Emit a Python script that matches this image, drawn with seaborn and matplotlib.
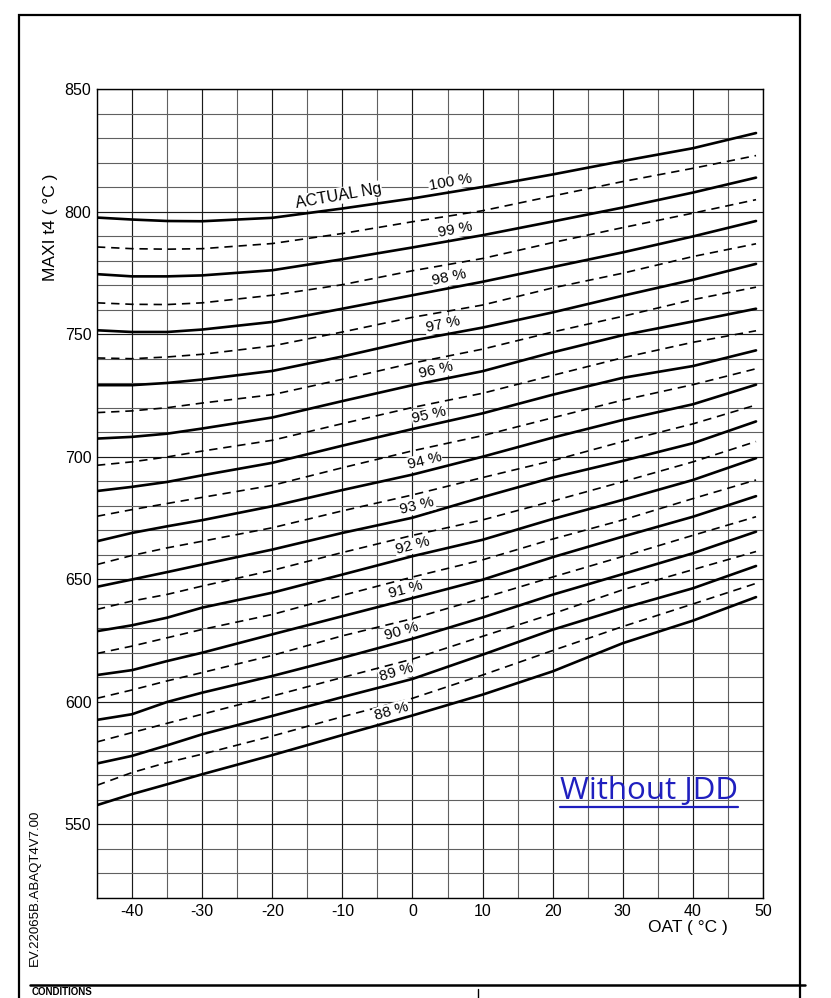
import numpy as np
import matplotlib
matplotlib.use("Agg")
import matplotlib.pyplot as plt
import seaborn as sns
from matplotlib.patches import Rectangle
from matplotlib.lines import Line2D

# OAT (deg C) where the curves were read
oat = [-45, -40, -35, -30, -20, -10, 0, 10, 20, 30, 40, 49]

# solid curves, actual Ng 100 % .. 88 %
ng_100 = [797.7, 796.9, 796.3, 796.2, 797.6, 801.4, 805.5, 810.2, 815.3, 820.8, 826.0, 832.2]
ng_99 = [774.6, 773.7, 773.7, 774.1, 776.2, 780.7, 785.5, 790.5, 796.1, 801.8, 807.9, 814.0]
ng_98 = [751.7, 751.0, 751.0, 752.0, 755.1, 760.5, 766.0, 771.5, 777.5, 783.5, 790.0, 796.3]
ng_97 = [729.3, 729.3, 730.2, 731.6, 735.1, 741.0, 747.5, 752.8, 759.0, 765.8, 772.3, 778.8]
ng_96 = [707.5, 708.2, 709.5, 711.6, 716.1, 722.8, 729.3, 735.0, 742.7, 749.7, 755.3, 760.5]
ng_95 = [686.1, 687.8, 689.8, 692.5, 697.6, 704.6, 711.4, 717.8, 725.4, 732.3, 737.1, 743.5]
ng_94 = [665.6, 669.0, 671.7, 674.2, 679.9, 686.5, 692.8, 700.1, 707.9, 715.1, 721.5, 729.5]
ng_93 = [647.0, 650.0, 653.0, 656.1, 662.2, 669.0, 675.2, 683.6, 691.6, 698.4, 705.6, 714.5]
ng_92 = [628.9, 631.3, 634.4, 638.5, 644.6, 652.0, 659.5, 666.2, 674.7, 682.5, 690.6, 699.5]
ng_91 = [611.0, 613.0, 616.7, 620.1, 627.6, 635.0, 642.4, 649.9, 659.1, 667.5, 675.6, 684.0]
ng_90 = [592.7, 595.0, 600.0, 603.8, 610.6, 618.0, 625.8, 634.5, 643.8, 652.2, 660.7, 669.5]
ng_89 = [574.9, 578.0, 582.3, 586.8, 594.3, 602.0, 609.4, 619.3, 629.5, 638.3, 646.4, 655.5]
ng_88 = [557.9, 562.4, 566.4, 570.5, 578.3, 586.5, 594.5, 603.0, 612.5, 624.0, 633.2, 642.8]

# dashed half-percent curves, 99.5 % .. 88.5 %
ng_995 = [785.7, 785.0, 784.8, 785.0, 787.1, 791.2, 796.0, 800.5, 806.5, 812.4, 817.8, 823.0]
ng_985 = [762.9, 762.3, 762.2, 762.9, 766.0, 770.3, 776.0, 781.0, 787.5, 793.6, 799.5, 805.0]
ng_975 = [740.4, 740.1, 740.8, 741.9, 745.3, 751.0, 757.0, 762.0, 769.0, 775.0, 781.8, 787.0]
ng_965 = [718.1, 718.8, 720.1, 722.0, 725.4, 731.7, 738.3, 744.0, 751.0, 757.4, 764.2, 769.3]
ng_955 = [696.6, 698.0, 700.0, 702.4, 706.8, 713.6, 720.2, 726.0, 733.3, 740.5, 746.8, 751.5]
ng_945 = [675.8, 678.5, 681.0, 683.5, 688.4, 695.6, 702.5, 708.7, 716.0, 723.2, 729.5, 736.0]
ng_935 = [656.1, 659.8, 662.9, 665.6, 671.1, 678.0, 684.5, 691.6, 698.5, 706.3, 713.5, 721.2]
ng_925 = [637.8, 641.2, 643.9, 647.3, 653.7, 661.0, 668.0, 674.3, 682.0, 689.9, 698.0, 706.3]
ng_915 = [619.8, 622.8, 626.2, 629.6, 635.7, 643.5, 651.0, 658.0, 666.5, 674.3, 683.0, 690.6]
ng_905 = [601.5, 604.9, 608.6, 612.0, 619.0, 627.0, 634.0, 642.4, 651.0, 659.4, 668.0, 675.6]
ng_895 = [583.7, 587.5, 591.3, 595.0, 602.4, 610.0, 617.5, 626.8, 636.0, 645.8, 654.0, 661.4]
ng_885 = [566.0, 571.2, 575.3, 578.7, 586.1, 594.0, 601.5, 611.0, 621.0, 630.8, 640.0, 648.4]

solid_curves = [ng_100, ng_99, ng_98, ng_97, ng_96, ng_95, ng_94,
                ng_93, ng_92, ng_91, ng_90, ng_89, ng_88]
solid_names = ["100 %", "99 %", "98 %", "97 %", "96 %", "95 %", "94 %",
               "93 %", "92 %", "91 %", "90 %", "89 %", "88 %"]
dashed_curves = [ng_995, ng_985, ng_975, ng_965, ng_955, ng_945,
                 ng_935, ng_925, ng_915, ng_905, ng_895, ng_885]

# where the percent labels sit along each curve
label_x = [5.4, 6.1, 5.3, 4.3, 3.3, 2.4, 1.7, 0.7, 0.0, -1.0, -1.6, -2.3, -3.0]
label_rot = [10, 11, 12, 12, 13, 13, 14, 14, 15, 15, 16, 16, 16]

sns.set_style("white")
plt.rcParams['font.family'] = ['Liberation Sans', 'DejaVu Sans']
plt.rcParams['axes.unicode_minus'] = False
plt.rcParams['text.color'] = 'black'
plt.rcParams['xtick.color'] = 'black'
plt.rcParams['ytick.color'] = 'black'

fig = plt.figure(figsize=(8.31, 9.98), dpi=100)
ax = fig.add_axes([0.1167, 0.1002, 0.8015, 0.8102])

for ys in solid_curves:
    sns.lineplot(x=oat, y=ys, ax=ax, color='black', linewidth=1.9, zorder=3)
for ys in dashed_curves:
    sns.lineplot(x=oat, y=ys, ax=ax, color='black', linewidth=1.2,
                 linestyle=(0, (5, 3.5)), zorder=3)

ax.set_xlim(-45, 50)
ax.set_ylim(520, 850)
ax.set_xticks(np.arange(-40, 51, 10))
ax.set_xticks(np.arange(-45, 51, 5), minor=True)
ax.set_yticks(np.arange(550, 851, 50))
ax.set_yticks(np.arange(520, 851, 10), minor=True)
ax.set_xticklabels([str(v) for v in range(-40, 51, 10)])
ax.tick_params(which='both', length=0, labelsize=11.5, pad=4, colors='black')
ax.grid(which='major', color='#1a1a1a', linewidth=0.85, zorder=1)
ax.grid(which='minor', color='#606060', linewidth=0.8, zorder=1)
ax.set_axisbelow(True)
for sp in ax.spines.values():
    sp.set_color('black')
    sp.set_linewidth(1.0)
ax.set_xlabel('')
ax.set_ylabel('')

box = dict(facecolor='white', edgecolor='none', pad=0.6)
for name, ys, lx, rot in zip(solid_names, solid_curves, label_x, label_rot):
    ly = np.interp(lx, oat, ys) + 4.2
    ax.text(lx, ly, name, fontsize=11, rotation=rot, ha='center', va='center',
            color='black', bbox=box, zorder=4)
ax.text(-10.6, 806.5, 'ACTUAL Ng', fontsize=11.5, rotation=10, ha='center',
        va='center', color='black', bbox=box, zorder=4)

ax.text(-0.07, 0.829, 'MAXI t4 ( °C )', transform=ax.transAxes, rotation=90,
        ha='center', va='center', fontsize=12.5, color='black')
ax.text(0.887, -0.036, 'OAT ( °C )', transform=ax.transAxes, ha='center',
        va='center', fontsize=12.5, color='black')

jdd = ax.text(21, 560.5, 'Without JDD', fontsize=22.5, color='#1f1fbf',
              family='Open Sans', ha='left', va='baseline', zorder=5)

fig.text(0.042, 0.110, 'EV.22065B.ABAQT4V7.00', rotation=90, ha='center',
         va='center', fontsize=9.5, color='black')

# page frame and the start of the conditions block
fig.patches.append(Rectangle((19 / 831, -0.02), (800 - 19) / 831, 1.02 - 15 / 998,
                             transform=fig.transFigure, fill=False,
                             edgecolor='black', linewidth=1.6))
fig.lines.append(Line2D([30 / 831, 805 / 831], [1 - 985 / 998, 1 - 985 / 998],
                        transform=fig.transFigure, color='black', linewidth=1.8))
fig.lines.append(Line2D([478 / 831, 478 / 831], [0, 1 - 989 / 998],
                        transform=fig.transFigure, color='black', linewidth=1.0))
fig.text(32 / 831, 0.001, 'CONDITIONS', fontsize=7, fontweight='bold',
         ha='left', va='bottom', color='black')

# underline for the blue note
fig.canvas.draw()
bb = jdd.get_window_extent()
uy = (bb.y0 - 1) / fig.bbox.height
fig.lines.append(Line2D([bb.x0 / fig.bbox.width, bb.x1 / fig.bbox.width], [uy, uy],
                        transform=fig.transFigure, color='#1f1fbf', linewidth=1.6))

fig.savefig('out.png', dpi=100)
